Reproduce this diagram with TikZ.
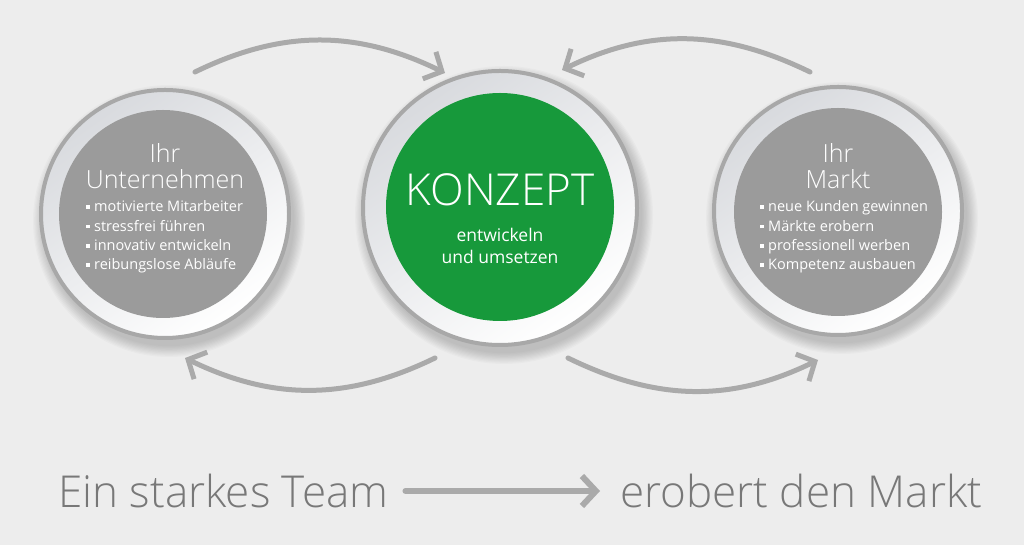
\documentclass[tikz,border=0pt]{standalone}
\usepackage{fontspec}
\setmainfont{Open Sans}
\IfFontExistsTF{Open Sans Light}{\newfontfamily\thinfont{Open Sans Light}}{\newfontfamily\thinfont{Open Sans}}
\usetikzlibrary{arrows.meta,calc}
\definecolor{bggray}{RGB}{237,237,237}
\definecolor{ringgray}{RGB}{168,168,168}
\definecolor{ringshade}{RGB}{216,218,222}
\definecolor{diskgray}{RGB}{155,155,155}
\definecolor{konzgreen}{RGB}{23,153,59}
\definecolor{arrowgray}{RGB}{170,170,170}
\definecolor{textgray}{RGB}{120,120,120}
\newcommand\lbul{\raisebox{0.2em}{\rule{0.25em}{0.25em}}\hspace{0.3em}}
\tikzset{
  ring/.style={circle,draw=ringgray,line width=4pt,top color=ringshade,bottom color=white,
    shading angle=35,inner sep=0pt,minimum size=#1},
  disk/.style={circle,fill=diskgray,inner sep=0pt,minimum size=#1},
  titletxt/.style={align=center,text=white,inner sep=0pt,font=\thinfont\fontsize{25}{26}\selectfont},
  listtxt/.style={align=left,text=white,inner sep=0pt,font=\fontsize{14.5}{19.3}\selectfont},
  cycarrow/.style={draw=arrowgray,line width=5pt,line cap=round,-{Straight Barb[length=14pt,width=30pt]}},
  slogan/.style={text=textgray,inner sep=0pt,font=\thinfont\fontsize{44}{50}\selectfont}
}

\begin{document}
\begin{tikzpicture}[x=1pt,y=1pt]
  \useasboundingbox (0,0) rectangle (1024,545);
  \fill[bggray] (0,0) rectangle (1024,545);
  % soft shadows
  \foreach \cx/\cy/\r in {165/331/124,500/337/137,838/334/124}{
    \foreach \k in {1,...,10}
      \fill[black,opacity=0.018] (\cx+4,\cy-7) circle ({\r+\k*1.2});
  }
  % Ihr Unternehmen
  \node[ring=248] (unt) at (165,331) {};
  \node[disk=208] (untdisk) at (163,331) {};
  \node[titletxt] (unttitle) at (165,379) {Ihr\\Unternehmen};
  \node[listtxt,anchor=west] (untlist) at (86,308) {\lbul motivierte Mitarbeiter\\\lbul stressfrei führen\\\lbul innovativ entwickeln\\\lbul reibungslose Abläufe};
  % Konzept
  \node[ring=274] (konz) at (500,337) {};
  \node[disk=228,fill=konzgreen] (konzdisk) at (500,338) {};
  \node[text=white,inner sep=0pt,font=\thinfont\fontsize{44}{48}\selectfont] (konztitle) at (500,355) {KONZEPT};
  \node[align=center,text=white,inner sep=0pt,font=\fontsize{17.5}{22}\selectfont] (konzsub) at (500,299) {entwickeln\\und umsetzen};
  % Ihr Markt
  \node[ring=248] (mkt) at (838,334) {};
  \node[disk=208] (mktdisk) at (838,333) {};
  \node[titletxt] (mkttitle) at (838,379) {Ihr\\Markt};
  \node[listtxt,anchor=west] (mktlist) at (760,308) {\lbul neue Kunden gewinnen\\\lbul Märkte erobern\\\lbul professionell werben\\\lbul Kompetenz ausbauen};
  % cycle arrows
  \draw[cycarrow] ($(unt)+(30,142)$) to[out=26,in=154] ($(konz)+(-55,135)$);
  \draw[cycarrow] ($(mkt)+(-28,139)$) to[out=154,in=26] ($(konz)+(62,138)$);
  \draw[cycarrow] ($(konz)+(-65,-150)$) to[out=206,in=334] ($(unt)+(20,-144)$);
  \draw[cycarrow] ($(konz)+(68,-150)$) to[out=-26,in=206] ($(mkt)+(-20,-149)$);
  % slogan
  \node[slogan,anchor=west] (team) at (58,54) {Ein starkes Team};
  \node[slogan,anchor=west] (markt) at (620,54) {erobert den Markt};
  \draw[cycarrow,line width=6pt,shorten <=17pt,shorten >=20pt] (team) -- (markt);
\end{tikzpicture}
\end{document}
